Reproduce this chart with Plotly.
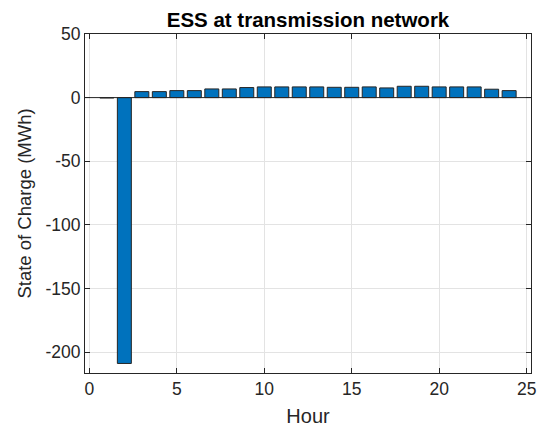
import plotly.graph_objects as go

hours = list(range(1, 25))
soc = [-0.3, -209, 4.7, 4.7, 5.5, 5.5, 6.8, 6.8, 7.9, 8.4, 8.4, 8.4,
       8.4, 8.1, 8.1, 8.4, 7.6, 8.9, 8.9, 8.4, 8.4, 8.4, 6.6, 5.5]
x_ticks = [0, 5, 10, 15, 20, 25]
y_ticks = [-200, -150, -100, -50, 0, 50]
y_tick_text = ["-200", "-150", "-100", "-50", "0", "50"]

FONT = "Liberation Sans, Arial"

fig = go.Figure()
fig.add_trace(go.Bar(
    x=hours, y=soc, width=0.8,
    marker=dict(color="#0072BD", line=dict(color="#262626", width=1)),
))

axis_common = dict(
    showline=True, linecolor="#262626", linewidth=1, mirror="ticks",
    ticks="inside", ticklen=5, tickcolor="#262626",
    showgrid=True, gridcolor="#E3E3E3", gridwidth=1,
    zeroline=False, automargin=False,
    tickfont=dict(family=FONT, size=17.5, color="#262626"),
)

fig.update_layout(
    width=542, height=432,
    margin=dict(l=85, r=11, t=34, b=59),
    paper_bgcolor="white", plot_bgcolor="white",
    showlegend=False,
    title=dict(text="<b>ESS at transmission network</b>", x=0.5, xanchor="center",
               xref="paper", y=1, yref="paper", yanchor="bottom", pad=dict(b=7),
               font=dict(family=FONT, size=20.5, color="black")),
    xaxis=dict(range=[-0.25, 25.25], tickvals=x_ticks,
               title=dict(text="Hour", standoff=10,
                          font=dict(family=FONT, size=20, color="#262626")),
               **axis_common),
    yaxis=dict(range=[-216.5, 50], tickvals=y_ticks, ticktext=y_tick_text,
               title=dict(text="State of Charge (MWh)", standoff=8,
                          font=dict(family=FONT, size=18.5, color="#262626")),
               **axis_common),
)
fig.add_hline(y=0, line=dict(color="#262626", width=1))

fig.write_html("out.html")
